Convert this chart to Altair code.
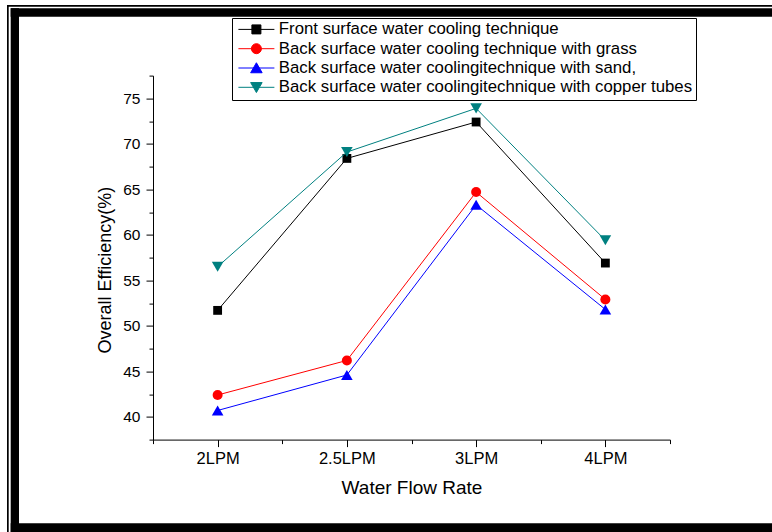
import altair as alt
import pandas as pd

# ---- data ----
flow_rates = ["2LPM", "2.5LPM", "3LPM", "4LPM"]
series_names = [
    "Front surface water cooling technique",
    "Back surface water cooling technique with grass",
    "Back surface water coolingitechnique with sand,",
    "Back surface water coolingitechnique with copper tubes",
]
front = [51.7, 68.4, 72.4, 56.9]
grass = [42.4, 46.2, 64.7, 52.9]
sand = [40.7, 44.6, 63.3, 51.8]
copper = [56.5, 69.1, 73.9, 59.4]

colors = ["#000000", "#ff0000", "#0000ff", "#008080"]
shapes = ["square", "circle", "triangle-up", "triangle-down"]
sizes = [78, 100, 135, 135]

rows = []
for name, vals in zip(series_names, [front, grass, sand, copper]):
    for i, (fr, v) in enumerate(zip(flow_rates, vals)):
        rows.append({"series": name, "idx": i, "flow": fr, "value": v})
df = pd.DataFrame(rows)

# legend symbols: line segment + marker (custom SVG paths)
seg = "M-3.6,0H3.6"
legend_paths = [
    seg + "M-0.9,-0.9H0.9V0.9H-0.9Z",
    seg + "M-1,0A1,1 0 1,0 1,0A1,1 0 1,0 -1,0Z",
    seg + "M0,-1.05L1.15,0.95L-1.15,0.95Z",
    seg + "M0,1.05L1.15,-0.95L-1.15,-0.95Z",
]

FONT = "Liberation Sans"
label_js = "[" + ",".join("'" + s + "'" for s in flow_rates) + "]"

x_axis = alt.Axis(
    values=[-0.5 + 0.5 * k for k in range(2 * len(flow_rates) + 1)],
    labelExpr=f"datum.value % 1 === 0 ? {label_js}[datum.value] : ''",
    tickSize={"condition": {"test": "datum.value % 1 === 0", "value": 7}, "value": 4},
    labelFontSize=16.5, labelFont=FONT, labelColor="black", labelPadding=4,
    labelFlush=False, labelOverlap=False,
    title="Water Flow Rate", titleFont=FONT, titleFontSize=19, titleFontWeight="normal",
    titleColor="black", titleX=258.5, titleY=48, titleBaseline="middle", titleAnchor="middle",
    domainColor="black", tickColor="black", grid=False,
)
y_axis = alt.Axis(
    values=[37.5 + 2.5 * k for k in range(17)],
    labelExpr="datum.value % 5 === 0 ? datum.label : ''",
    tickSize={"condition": {"test": "datum.value % 5 === 0", "value": 7}, "value": 4},
    labelFontSize=15.5, labelFont=FONT, labelColor="black", labelPadding=6,
    labelFlush=False, labelOverlap=False,
    title="Overall Efficiency(%)", titleFont=FONT, titleFontSize=18, titleFontWeight="normal",
    titleColor="black", titleAngle=270, titleX=-48, titleY=194,
    titleBaseline="middle", titleAlign="center", titleAnchor="middle",
    domainColor="black", tickColor="black", grid=False,
)

x_enc = alt.X("idx:Q", scale=alt.Scale(domain=[-0.5, len(flow_rates) - 0.5], nice=False, zero=False), axis=x_axis)
y_enc = alt.Y("value:Q", scale=alt.Scale(domain=[37.5, 77.5], nice=False, zero=False), axis=y_axis)

series_layers = []
for name, col, shp, sz in zip(series_names, colors, shapes, sizes):
    base = alt.Chart(df).transform_filter(alt.datum.series == name)
    series_layers.append(base.mark_line(strokeWidth=1, color=col).encode(x=x_enc, y=y_enc, order="idx:Q"))
    series_layers.append(base.mark_point(filled=True, shape=shp, size=sz, opacity=1, color=col).encode(x=x_enc, y=y_enc))

leg = alt.Legend(
    orient="none", legendX=79, legendY=-57.6, title=None,
    labelFont=FONT, labelFontSize=16.8, labelColor="black", labelLimit=600,
    symbolSize=100, symbolStrokeWidth=1, symbolOpacity=1,
    symbolOffset=13, labelOffset=14, padding=3, rowPadding=1.3,
    strokeColor="black", fillColor="white",
)
legend_layer = alt.Chart(df).mark_point(filled=True, opacity=0).encode(
    x=x_enc, y=y_enc,
    fill=alt.Fill("series:N", scale=alt.Scale(domain=series_names, range=colors), legend=leg),
    stroke=alt.Stroke("series:N", scale=alt.Scale(domain=series_names, range=colors), legend=leg),
    shape=alt.Shape("series:N", scale=alt.Scale(domain=series_names, range=legend_paths), legend=leg),
)

# decorative page frame
one = pd.DataFrame({"a": [0]})
def frame(x1, x2, y1, y2):
    return alt.Chart(one).mark_rect(color="black").encode(
        x=alt.value(x1), x2=alt.value(x2), y=alt.value(y1), y2=alt.value(y2))

frames = [
    frame(-146, 619, -70.6, -68.9),
    frame(-146, -144.3, -70.6, 456.4),
    frame(-142.3, 619, -67.3, -58.9),
    frame(-142.3, -134, -67.3, 456.4),
    frame(-142.3, 619, 447.7, 456.4),
]

chart = alt.layer(*frames, *series_layers, legend_layer).properties(
    width=517, height=364,
    padding={"left": 153, "top": 75.6, "right": 102, "bottom": 92.4},
    autosize=alt.AutoSizeParams(type="none"),
    background="white",
).configure_view(stroke=None)

chart.save("out.html", embed_options={"renderer": "svg", "actions": False})
